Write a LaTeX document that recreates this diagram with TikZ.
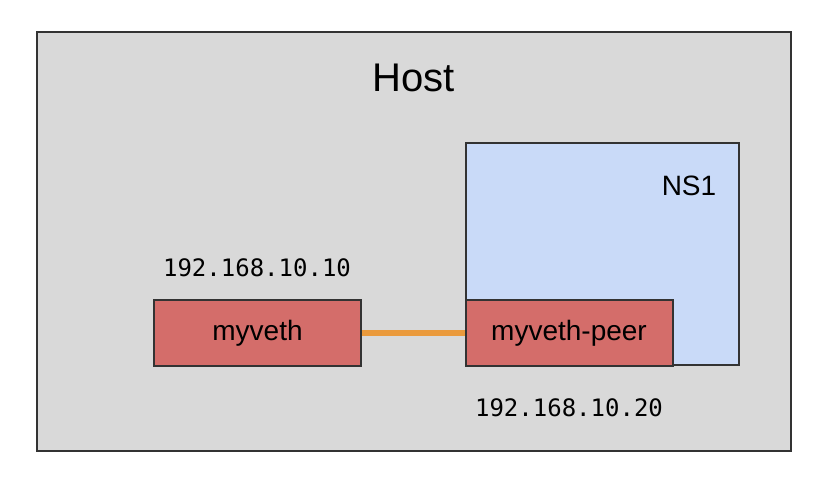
\documentclass[tikz,border=0pt]{standalone}
\usepackage{fontspec}
\setmainfont{Liberation Sans}
\setmonofont{DejaVu Sans Mono}
\definecolor{hostgray}{HTML}{D9D9D9}
\definecolor{nsblue}{HTML}{C9DAF8}
\definecolor{vethred}{HTML}{D46D6A}
\definecolor{linkorange}{HTML}{EA9A3C}
\definecolor{edgegray}{HTML}{333333}

\tikzstyle{box}=[shape=rectangle,draw=edgegray,line width=1pt,inner sep=0pt]
\tikzstyle{hostbox}=[box,fill=hostgray,minimum width=377pt,minimum height=209.5pt]
\tikzstyle{nsbox}=[box,fill=nsblue,minimum width=136.5pt,minimum height=111pt]
\tikzstyle{veth}=[box,fill=vethred,minimum width=103.5pt,minimum height=33pt,font=\fontsize{14}{16}\selectfont]
\tikzstyle{ipaddr}=[font=\ttfamily\fontsize{12}{14}\selectfont]
\tikzstyle{link}=[-,line width=3pt,draw=linkorange]

\begin{document}
\begin{tikzpicture}[x=0.5pt,y=-0.5pt]
\useasboundingbox (0,0) rectangle (826,482);
% host and namespace
\node[hostbox] (host) at (414,241.5) {};
\node[font=\fontsize{20}{24}\selectfont] (hostlabel) at (414,78) {Host};
\node[nsbox] (ns1) at (602.5,254) {};
\node[font=\fontsize{14}{16}\selectfont] (nslabel) at (689,186) {NS1};
% veth pair
\node[veth] (veth) at (257.5,333) {myveth};
\node[veth] (peer) at (569,333) {myveth-peer};
\node[ipaddr] (ip1) at (257,268) {192.168.10.10};
\node[ipaddr] (ip2) at (569,408) {192.168.10.20};
% link
\draw[link] (veth) -- (peer);
\end{tikzpicture}
\end{document}
